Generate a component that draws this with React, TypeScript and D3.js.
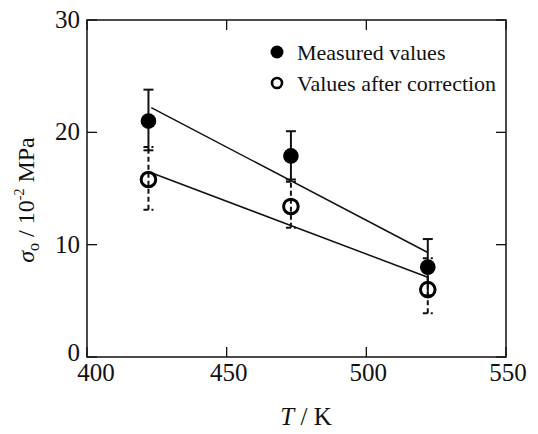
import React from "react";
import * as d3 from "d3";

const temperatures = [422, 473, 522];
const measured = [21.0, 17.9, 8.0];
const measuredLow = [18.4, 15.8, 5.5];
const measuredHigh = [23.8, 20.1, 10.5];
const corrected = [15.8, 13.4, 6.0];
const correctedLow = [13.1, 11.5, 3.9];
const correctedHigh = [18.7, 15.6, 8.8];
const fitMeasuredT = [423, 522];
const fitMeasured = [22.2, 9.3];
const fitCorrectedT = [423, 522];
const fitCorrected = [16.4, 7.1];
const xTicks = [400, 450, 500, 550];
const yTicks = [0, 10, 20, 30];

const W = 538;
const H = 434;
const M = { left: 87, right: 32, top: 20, bottom: 77 };

export default function App() {
  const x = d3.scaleLinear().domain([400, 550]).range([M.left, W - M.right]);
  const y = d3.scaleLinear().domain([0, 30]).range([H - M.bottom, M.top]);
  const fs = { fontFamily: "Liberation Serif, Times New Roman, DejaVu Serif, serif" };
  const line = d3
    .line<[number, number]>()
    .x((d) => x(d[0]))
    .y((d) => y(d[1]));
  const fit1 = fitMeasuredT.map((t, i) => [t, fitMeasured[i]] as [number, number]);
  const fit2 = fitCorrectedT.map((t, i) => [t, fitCorrected[i]] as [number, number]);
  const tick = 10;
  const cap = 5;
  const x0 = M.left, x1 = W - M.right, y0 = H - M.bottom, y1 = M.top;

  return (
    <svg width={W} height={H} style={{ position: "absolute", left: 0, top: 0, background: "#fff", ...fs }}>
      <rect x={0} y={0} width={W} height={H} fill="#fff" />
      <rect x={x0} y={y1} width={x1 - x0} height={y0 - y1} fill="none" stroke="#111" strokeWidth={1.5} />
      {xTicks.map((t, i) => (
        <g key={"xt" + t}>
          <line x1={x(t)} x2={x(t)} y1={y0} y2={y0 - tick} stroke="#111" strokeWidth={1.3} />
          <line x1={x(t)} x2={x(t)} y1={y1} y2={y1 + tick} stroke="#111" strokeWidth={1.3} />
          <text x={x(t) + (i === 0 ? 9 : 2)} y={y0 + 24} textAnchor="middle" style={fs} fontSize={25} fill="#111">
            {t}
          </text>
        </g>
      ))}
      {yTicks.map((t) => (
        <g key={"yt" + t}>
          <line x1={x0} x2={x0 + tick} y1={y(t)} y2={y(t)} stroke="#111" strokeWidth={1.3} />
          <line x1={x1} x2={x1 - tick} y1={y(t)} y2={y(t)} stroke="#111" strokeWidth={1.3} />
          <text x={x0 - 7} y={y(t) + (t === 0 ? 4 : 8)} textAnchor="end" style={fs} fontSize={25} fill="#111">
            {t}
          </text>
        </g>
      ))}
      <path d={line(fit1) || ""} fill="none" stroke="#111" strokeWidth={1.5} />
      <path d={line(fit2) || ""} fill="none" stroke="#111" strokeWidth={1.5} />
      {temperatures.map((t, i) => (
        <g key={"ce" + i} stroke="#111" strokeWidth={2} strokeDasharray="5,3">
          <line x1={x(t)} x2={x(t)} y1={y(correctedLow[i])} y2={y(correctedHigh[i])} />
          <line x1={x(t) - cap} x2={x(t) + cap} y1={y(correctedLow[i])} y2={y(correctedLow[i])} />
          <line x1={x(t) - cap} x2={x(t) + cap} y1={y(correctedHigh[i])} y2={y(correctedHigh[i])} />
        </g>
      ))}
      {temperatures.map((t, i) => (
        <g key={"me" + i} stroke="#111" strokeWidth={2}>
          <line x1={x(t)} x2={x(t)} y1={y(measuredLow[i])} y2={y(measuredHigh[i])} />
          <line x1={x(t) - cap} x2={x(t) + cap} y1={y(measuredLow[i])} y2={y(measuredLow[i])} />
          <line x1={x(t) - cap} x2={x(t) + cap} y1={y(measuredHigh[i])} y2={y(measuredHigh[i])} />
        </g>
      ))}
      {temperatures.map((t, i) => (
        <circle key={"m" + i} cx={x(t)} cy={y(measured[i])} r={7.8} fill="#000" />
      ))}
      {temperatures.map((t, i) => (
        <circle key={"c" + i} cx={x(t)} cy={y(corrected[i])} r={7.3} fill="none" stroke="#000" strokeWidth={3} />
      ))}
      <circle cx={277} cy={52} r={6.5} fill="#000" />
      <text x={297} y={60} style={fs} fontSize={22} fill="#111">Measured values</text>
      <circle cx={277} cy={83} r={5} fill="none" stroke="#000" strokeWidth={2.6} />
      <text x={297} y={91} style={fs} fontSize={22} fill="#111">Values after correction</text>
      <text x={306} y={425} textAnchor="middle" style={fs} fontSize={25} fill="#111">
        <tspan fontStyle="italic">T</tspan> / K
      </text>
      <text transform={`translate(34, 200) rotate(-90)`} textAnchor="middle" style={fs} fontSize={24} fill="#111">
        <tspan fontStyle="italic">σ</tspan>
        <tspan fontSize={16} dy={5}>o</tspan>
        <tspan dy={-5}> / 10</tspan>
        <tspan fontSize={14} dy={-10}>-2</tspan>
        <tspan dy={10}> MPa</tspan>
      </text>
    </svg>
  );
}
